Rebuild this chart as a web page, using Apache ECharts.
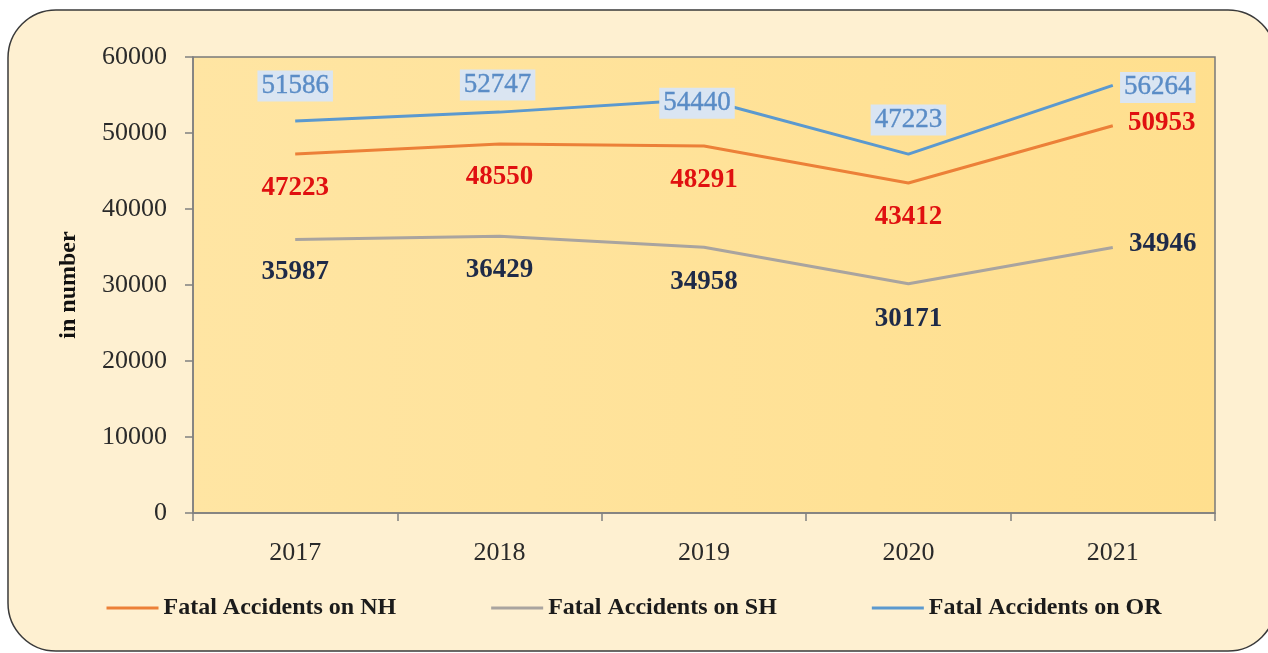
<!DOCTYPE html>
<html>
<head>
<meta charset="utf-8">
<script src="https://cdn.jsdelivr.net/npm/echarts@6/dist/echarts.min.js"></script>
<style>
  html, body { margin: 0; padding: 0; background: #ffffff; }
  #chart { width: 1268px; height: 653px; }
</style>
</head>
<body>
<div id="chart"></div>
<script>
// Fatal road accidents by road category, 2017-2021
const years = ['2017', '2018', '2019', '2020', '2021'];
const seriesNames = ['Fatal Accidents on NH', 'Fatal Accidents on SH', 'Fatal Accidents on OR'];
const nhValues = [47223, 48550, 48291, 43412, 50953];
const shValues = [35987, 36429, 34958, 30171, 34946];
const orValues = [51586, 52747, 54440, 47223, 56264];

// label centre offsets from each point, in pixels [dx, dy]
const nhLabelShift = [[0, 34], [0, 33], [0, 34], [0, 34], [49, -3]];
const shLabelShift = [[0, 33], [0, 34], [0, 35], [0, 35], [50, -3]];
const orLabelShift = [[0, -35], [-2, -27], [-7, 4], [0, -34], [45, 2]];

const serif = '"Liberation Serif", "Times New Roman", serif';

function withLabels(values, shifts) {
  return values.map((v, i) => ({ value: v, label: { offset: shifts[i] } }));
}

const chart = echarts.init(document.getElementById('chart'), null, { renderer: 'canvas' });

chart.setOption({
  backgroundColor: '#ffffff',
  animation: false,
  graphic: [{
    type: 'rect',
    z: -10,
    shape: { x: 8, y: 10, width: 1268, height: 641, r: 48 },
    style: { fill: '#fef0d1', stroke: '#3a3a3a', lineWidth: 1.5 }
  }],
  grid: {
    left: 193, right: 53, top: 57, bottom: 140,
    show: true,
    backgroundColor: new echarts.graphic.LinearGradient(0, 0, 1, 0, [
      { offset: 0, color: '#ffe5a3' },
      { offset: 1, color: '#ffdf8e' }
    ]),
    borderColor: '#7a7a7a',
    borderWidth: 1.5
  },
  legend: {
    bottom: 28,
    left: 'center',
    itemWidth: 52,
    itemHeight: 3,
    itemGap: 95,
    icon: 'rect',
    textStyle: { fontFamily: serif, fontWeight: 'bold', fontSize: 24, color: '#1b1b1b' },
    data: [
      { name: seriesNames[0], itemStyle: { color: '#ec8038' } },
      { name: seriesNames[1], itemStyle: { color: '#a9a49f' } },
      { name: seriesNames[2], itemStyle: { color: '#5b99cf' } }
    ]
  },
  xAxis: {
    type: 'category',
    data: years,
    boundaryGap: true,
    axisLine: { lineStyle: { color: '#808080', width: 1.5 } },
    axisTick: { show: true, length: 8, lineStyle: { color: '#808080', width: 1.5 } },
    axisLabel: { fontFamily: serif, fontSize: 26, color: '#2a2a2a', margin: 27 }
  },
  yAxis: {
    type: 'value',
    min: 0, max: 60000, interval: 10000,
    name: 'in number',
    nameLocation: 'middle',
    nameGap: 112,
    nameRotate: 90,
    nameTextStyle: { fontFamily: serif, fontWeight: 'bold', fontSize: 24, color: '#111111' },
    axisLine: { show: true, lineStyle: { color: '#808080', width: 1.5 } },
    axisTick: { show: true, length: 8, lineStyle: { color: '#808080', width: 1.5 } },
    splitLine: { show: false },
    axisLabel: {
      fontFamily: serif, fontSize: 26, color: '#2a2a2a', margin: 26,
      formatter: (v) => String(v)
    }
  },
  series: [
    {
      name: seriesNames[0],
      type: 'line',
      data: withLabels(nhValues, nhLabelShift),
      symbol: 'circle', symbolSize: 0,
      lineStyle: { color: '#ec8038', width: 3 },
      itemStyle: { color: '#ec8038' },
      label: {
        show: true, position: 'inside',
        fontFamily: serif, fontWeight: 'bold', fontSize: 27, color: '#e01010'
      },
      z: 3
    },
    {
      name: seriesNames[1],
      type: 'line',
      data: withLabels(shValues, shLabelShift),
      symbol: 'circle', symbolSize: 0,
      lineStyle: { color: '#a9a49f', width: 3 },
      itemStyle: { color: '#a9a49f' },
      label: {
        show: true, position: 'inside',
        fontFamily: serif, fontWeight: 'bold', fontSize: 27, color: '#1e2a48'
      },
      z: 3
    },
    {
      name: seriesNames[2],
      type: 'line',
      data: withLabels(orValues, orLabelShift),
      symbol: 'circle', symbolSize: 0,
      lineStyle: { color: '#5b99cf', width: 3 },
      itemStyle: { color: '#5b99cf' },
      label: {
        show: true, position: 'inside',
        fontFamily: serif, fontWeight: 'normal', fontSize: 27, color: '#5a8cc6',
        textBorderColor: '#5a8cc6', textBorderWidth: 0.4,
        backgroundColor: '#dae5f2', padding: [3, 4, 1, 4]
      },
      z: 4
    }
  ]
});
</script>
</body>
</html>
